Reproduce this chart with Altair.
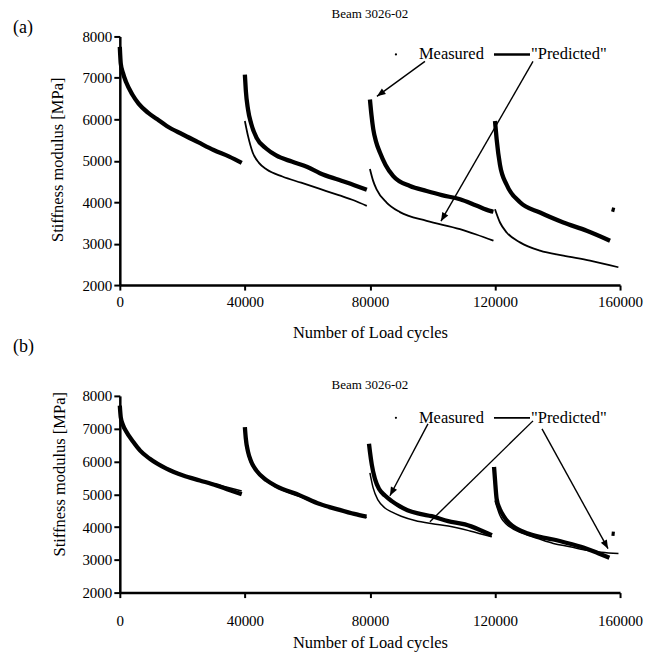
import math
import altair as alt
import pandas as pd

# ---------------- Panel (a) data ----------------
A_M1_X = [0, 300, 1000, 2000, 4000, 6000, 9000, 12000, 15000, 20000, 25000, 30000, 35000, 39000]
A_M1_Y = [7750, 7350, 7120, 6900, 6600, 6380, 6160, 6000, 5840, 5640, 5450, 5260, 5100, 4950]
A_M2_X = [40000, 40300, 41000, 42000, 43700, 46900, 50000, 55000, 60000, 64000, 70000, 75000, 79000]
A_M2_Y = [7080, 6700, 6240, 5900, 5560, 5290, 5130, 4980, 4850, 4700, 4540, 4410, 4300]
A_M3_X = [80000, 80500, 81070, 82000, 83200, 85000, 87460, 92800, 98130, 103000, 108800, 114000, 118400, 119500]
A_M3_Y = [6480, 6100, 5760, 5450, 5200, 4900, 4630, 4390, 4270, 4170, 4070, 3920, 3790, 3770]
A_M4_X = [120000, 120530, 121600, 123740, 128000, 134400, 141870, 149340, 156800]
A_M4_Y = [5960, 5520, 4900, 4420, 4000, 3750, 3510, 3310, 3070]
A_M5_X = [157300, 158300]
A_M5_Y = [3830, 3810]

A_P2_X = [40000, 41000, 42500, 44500, 47000, 52000, 58000, 64000, 70000, 75000, 79000]
A_P2_Y = [5960, 5600, 5200, 4950, 4790, 4620, 4470, 4320, 4170, 4040, 3910]
A_P3_X = [80000, 81000, 82130, 85330, 89600, 98130, 108800, 114000, 119500]
A_P3_Y = [4800, 4520, 4310, 3990, 3760, 3550, 3350, 3220, 3070]
A_P4_X = [120000, 121600, 123740, 128000, 134400, 141870, 150400, 159470]
A_P4_Y = [3830, 3510, 3270, 3030, 2830, 2710, 2590, 2430]

# ---------------- Panel (b) data ----------------
B_M1_X = [0, 300, 1070, 2000, 4270, 6500, 9600, 14900, 20270, 25600, 30900, 35000, 39000]
B_M1_Y = [7700, 7350, 7100, 6920, 6600, 6330, 6080, 5780, 5570, 5420, 5270, 5130, 5000]
B_M2_X = [40000, 40300, 41000, 42000, 43700, 46900, 50000, 57600, 64000, 70000, 75000, 78900]
B_M2_Y = [7050, 6700, 6300, 6000, 5720, 5430, 5250, 4965, 4700, 4530, 4400, 4315]
B_M3_X = [79700, 80000, 80600, 81600, 83000, 84800, 87000, 89060, 92000, 96000, 99740, 105000, 110400, 115000, 119000]
B_M3_Y = [6540, 6300, 5900, 5470, 5150, 4960, 4790, 4660, 4510, 4400, 4330, 4180, 4080, 3920, 3750]
B_M4_X = [119700, 120000, 120530, 121500, 122660, 124500, 126930, 130000, 134400, 138660, 144000, 149330, 153000, 156600]
B_M4_Y = [5830, 5450, 4860, 4560, 4350, 4120, 3950, 3820, 3700, 3620, 3490, 3340, 3200, 3060]
B_M5_X = [157300, 158300]
B_M5_Y = [3800, 3790]

B_P1_X = [0, 1000, 2000, 4000, 6500, 9600, 15000, 20000, 25000, 30000, 35000, 39000]
B_P1_Y = [7350, 7050, 6880, 6620, 6330, 6080, 5800, 5600, 5450, 5320, 5200, 5100]
B_P2_X = [40000, 41000, 43700, 46900, 50000, 57600, 64000, 70000, 75000, 79000]
B_P2_Y = [6700, 6200, 5690, 5400, 5220, 4930, 4680, 4510, 4390, 4290]
B_P3_X = [80000, 81000, 82660, 84800, 86930, 90000, 94400, 100000, 105060, 112000, 119000]
B_P3_Y = [5650, 5200, 4810, 4580, 4460, 4330, 4200, 4100, 4030, 3880, 3700]
B_P4_X = [120000, 121600, 124800, 129060, 134000, 138660, 144000, 149330, 154000, 159500]
B_P4_Y = [4810, 4350, 4000, 3800, 3640, 3500, 3400, 3290, 3230, 3190]

# ---------------- Annotations ----------------
TITLE = "Beam 3026-02"
X_TICKS = [0, 40000, 80000, 120000, 160000]
Y_TICKS = [2000, 3000, 4000, 5000, 6000, 7000, 8000]

A_LEG_Y = 7566
B_LEG_Y = 7330
LEG_DOT_X = 88320
LEG_MEAS_X = 95680
LEG_LINE_X1 = 119680
LEG_LINE_X2 = 131200
LEG_PRED_X = 131520

# arrows: x1, y1, x2, y2, head
A_ARROWS = [(97600, 7398, 82240, 6554, True), (132160, 7398, 102720, 3542, True)]
B_ARROWS = [(98560, 7147, 86400, 4954, True), (132160, 7238, 99200, 4162, False),
            (135040, 6995, 156160, 3340, True)]

W = 501
HA = 249
HB = 197
FONT = "Liberation Serif"
HEAD = "M0,0L-0.4,1L0.4,1Z"


def seg_df(segs):
    rows = []
    for i, (xs, ys) in enumerate(segs):
        for x, y in zip(xs, ys):
            rows.append({"x": x, "y": y, "seg": i})
    return pd.DataFrame(rows)


def panel(label, label_y, title_y, msegs, psegs, leg_y, arrows, H,
          xlabpad, xtitlepad, ytx, yty, leg_w, pred_w):
    X = alt.X("x:Q", scale=alt.Scale(domain=[0, 160000], nice=False, zero=False),
              axis=alt.Axis(values=X_TICKS, format="d", title="Number of Load cycles",
                            labelFontSize=15, titleFontSize=16.5, tickSize=5,
                            labelPadding=xlabpad, titlePadding=xtitlepad, labelFlush=False))
    Y = alt.Y("y:Q", scale=alt.Scale(domain=[2000, 8000], nice=False, zero=False),
              axis=alt.Axis(values=Y_TICKS, format="d", title="Stiffness modulus [MPa]",
                            labelFontSize=15, titleFontSize=16.5, tickSize=6,
                            labelPadding=2, titleX=ytx, titleY=yty,
                            titleBaseline="middle"))
    meas = alt.Chart(seg_df(msegs)).mark_line(
        color="black", strokeWidth=4.3, interpolate="monotone").encode(
        x=X, y=Y, detail="seg:N", order="x:Q")
    pred = alt.Chart(seg_df(psegs)).mark_line(
        color="black", strokeWidth=pred_w, interpolate="monotone").encode(
        x=X, y=Y, detail="seg:N", order="x:Q")

    sx = W / 160000.0
    sy = H / 6000.0
    arr = pd.DataFrame([{"x": a[0], "y": a[1], "x2": a[2], "y2": a[3]} for a in arrows])
    heads = []
    for a in arrows:
        if a[4]:
            dx = (a[2] - a[0]) * sx
            dys = -(a[3] - a[1]) * sy
            ang = math.degrees(math.atan2(dx, -dys)) % 360
            heads.append({"x": a[2], "y": a[3], "ang": ang})
    rules = alt.Chart(arr).mark_rule(color="black", strokeWidth=1.4).encode(
        x=X, y=Y, x2="x2:Q", y2="y2:Q")
    hd = alt.Chart(pd.DataFrame(heads)).mark_point(
        shape=HEAD, filled=True, size=300, color="black", opacity=1).encode(
        x=X, y=Y, angle=alt.Angle("ang:Q", scale=None))

    legdot = alt.Chart(pd.DataFrame({"x": [LEG_DOT_X], "y": [leg_y]})).mark_point(
        filled=True, size=5, color="black", opacity=1).encode(x=X, y=Y)
    legline = alt.Chart(pd.DataFrame({"x": [LEG_LINE_X1], "x2": [LEG_LINE_X2], "y": [leg_y]})).mark_rule(
        color="black", strokeWidth=leg_w).encode(x=X, x2="x2:Q", y=Y)
    legtxt = alt.Chart(pd.DataFrame({"x": [LEG_MEAS_X, LEG_PRED_X], "y": [leg_y, leg_y],
                                     "t": ["Measured", '"Predicted"']})).mark_text(
        align="left", baseline="middle", font=FONT, fontSize=16.5, color="black").encode(
        x=X, y=Y, text="t:N")

    ttl = alt.Chart(pd.DataFrame({"t": [TITLE]})).mark_text(
        align="center", baseline="middle", font=FONT, fontSize=13, color="black").encode(
        x=alt.value(W / 2), y=alt.value(title_y), text="t:N")
    lab = alt.Chart(pd.DataFrame({"t": [label]})).mark_text(
        align="left", baseline="middle", font=FONT, fontSize=18, color="black").encode(
        x=alt.value(-107), y=alt.value(label_y), text="t:N")

    return alt.layer(meas, pred, rules, hd, legdot, legline, legtxt, ttl, lab).properties(
        width=W, height=H)


top = panel("(a)", -8, -22,
            [(A_M1_X, A_M1_Y), (A_M2_X, A_M2_Y), (A_M3_X, A_M3_Y), (A_M4_X, A_M4_Y), (A_M5_X, A_M5_Y)],
            [(A_P2_X, A_P2_Y), (A_P3_X, A_P3_Y), (A_P4_X, A_P4_Y)],
            A_LEG_Y, A_ARROWS, HA, 4, 16, -62, 123, 2.6, 1.8)
bottom = panel("(b)", -49, -11,
               [(B_M1_X, B_M1_Y), (B_M2_X, B_M2_Y), (B_M3_X, B_M3_Y), (B_M4_X, B_M4_Y), (B_M5_X, B_M5_Y)],
               [(B_P1_X, B_P1_Y), (B_P2_X, B_P2_Y), (B_P3_X, B_P3_Y), (B_P4_X, B_P4_Y)],
               B_LEG_Y, B_ARROWS, HB, 16, 6, -60, 78, 1.6, 1.5)

chart = alt.vconcat(top, bottom, spacing=111, bounds="flush").properties(
    padding={"left": 13, "top": 8, "right": 4, "bottom": 4}
).configure(font=FONT, background="white").configure_axis(
    domainColor="black", domainWidth=2.5, tickColor="black", tickWidth=2,
    labelColor="black", titleColor="black", labelFont=FONT, titleFont=FONT,
    titleFontWeight="normal", grid=False
).configure_view(stroke=None)

chart.save("out.html", embed_options={"renderer": "svg", "actions": False})
